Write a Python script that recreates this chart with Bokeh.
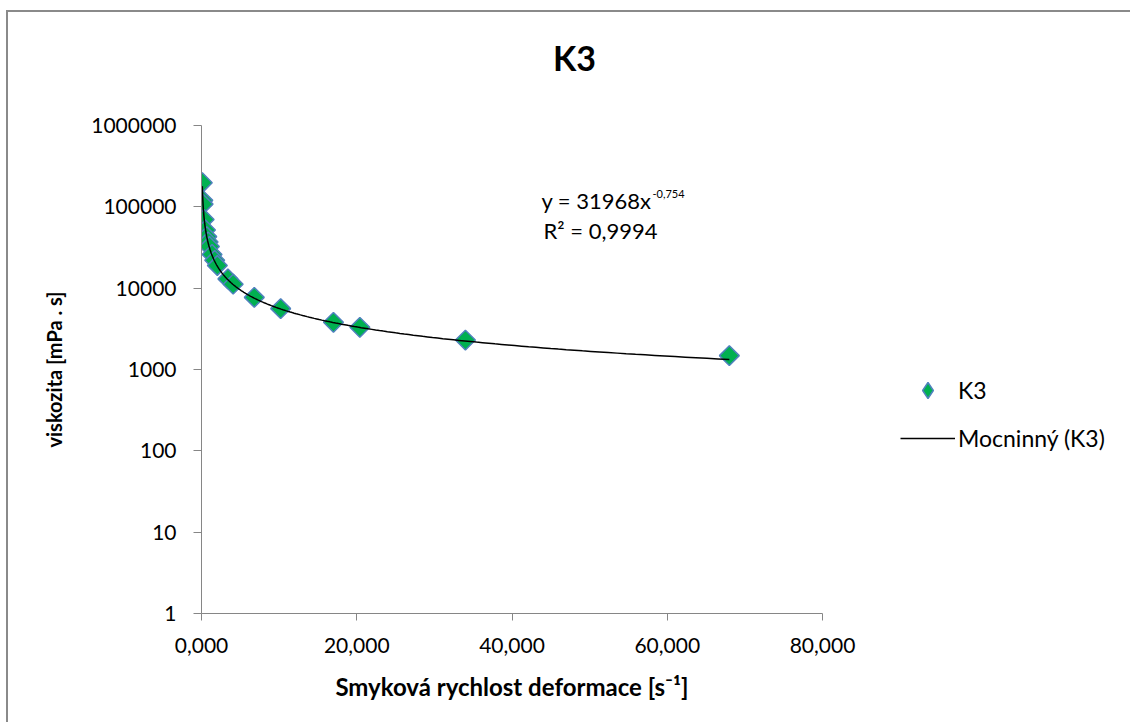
import numpy as np
from bokeh.plotting import figure
from bokeh.models import (FixedTicker, CustomJSTickFormatter, Label, Legend, LegendItem,
                          ColumnDataSource)
from bokeh.embed import file_html
from bokeh.resources import INLINE

# ---- data ----
shear_rate = [0.102, 0.17, 0.204, 0.34, 0.51, 0.68, 0.85, 1.02, 1.36, 1.7, 2.04,
              3.4, 4.08, 6.8, 10.2, 17.0, 20.4, 34.0, 68.0]
viscosity = [198000, 120000, 108000, 70000, 52000, 43000, 37000, 32500, 26000, 22000, 19000,
             13000, 11200, 7700, 5600, 3800, 3300, 2300, 1480]
x_ticks = [0, 20, 40, 60, 80]
y_ticks = [1, 10, 100, 1000, 10000, 100000, 1000000]
fit_coef = 31968
fit_exp = -0.754
fit_r2 = "0,9994"
chart_title = "K3"

FONT = "Lato"
GRAY = "#868686"
GREEN = "#00B050"
BLUE = "#4F81BD"

p = figure(width=1114, height=710, output_backend="svg", toolbar_location=None,
           x_range=(0, 80), y_range=(1, 1e6), y_axis_type="log", title=None,
           frame_width=621, frame_height=488,
           min_border_left=193, min_border_top=113, min_border_right=300, min_border_bottom=109,
           background_fill_color="white", border_fill_color="white")
p.styles = {"margin-left": "6px", "margin-top": "10px",
            "border-left": "2px solid #8a8a8a", "border-top": "2px solid #8a8a8a"}
p.outline_line_color = None
p.grid.visible = False

# title, placed in the area above the plot frame
p.add_layout(Label(x=373, y=68, x_units="screen", y_units="screen", text=chart_title,
                   text_font=FONT, text_font_style="bold", text_font_size="34px",
                   text_align="center", text_baseline="middle", text_color="black"),
             "above")

# axes
for ax in (p.xaxis[0], p.yaxis[0]):
    ax.axis_line_color = GRAY
    ax.major_tick_line_color = GRAY
    ax.minor_tick_line_color = None
    ax.major_tick_in = 0
    ax.major_label_text_font = FONT
    ax.major_label_text_font_size = "21px"
    ax.major_label_text_color = "black"
    ax.axis_label_text_font = FONT
    ax.axis_label_text_font_style = "bold"
    ax.axis_label_text_color = "black"

p.xaxis.ticker = FixedTicker(ticks=x_ticks)
p.xaxis.formatter = CustomJSTickFormatter(code="return tick.toFixed(3).replace('.', ',');")
p.xaxis.major_tick_out = 7
p.xaxis.major_label_standoff = 17
p.xaxis.axis_label = "Smyková rychlost deformace [s\u207b\u00b9]"
p.xaxis.axis_label_text_font_size = "24px"
p.xaxis.axis_label_standoff = 16

p.yaxis.ticker = FixedTicker(ticks=y_ticks)
p.yaxis.formatter = CustomJSTickFormatter(code="return tick.toFixed(0);")
p.yaxis.major_tick_out = 8
p.yaxis.major_label_standoff = 17
p.yaxis.axis_label = "viskozita [mPa . s]"
p.yaxis.axis_label_text_font_size = "20px"
p.yaxis.axis_label_standoff = 22

# trend line (power trendline shown on the chart)
xs = np.geomspace(min(shear_rate), max(shear_rate), 300)
trend = ColumnDataSource(dict(x=xs, y=fit_coef * xs ** fit_exp))

pts = ColumnDataSource(dict(x=shear_rate, y=viscosity))
pts_r = p.scatter("x", "y", source=pts, marker="square", angle=np.pi / 4, size=14,
                  fill_color=GREEN, line_color=BLUE, line_width=1.5)
line_r = p.line("x", "y", source=trend, line_color="black", line_width=1.5)
# legend-only swatch (diamond shape like the series markers), hidden in the plot
swatch_r = p.scatter("x", "y", source=pts, marker="diamond", size=14,
                     fill_color=GREEN, line_color=BLUE, line_width=1.5, visible=False)

# equation
p.add_layout(Label(x=450, y=413, x_units="screen", y_units="screen",
                   text="y = %dx" % fit_coef, text_font=FONT, text_font_size="22px",
                   text_align="right", text_baseline="alphabetic", text_color="black"))
p.add_layout(Label(x=451, y=420, x_units="screen", y_units="screen",
                   text=("%.3f" % fit_exp).replace(".", ","), text_font=FONT,
                   text_font_size="11px", text_align="left", text_baseline="alphabetic",
                   text_color="black"))
p.add_layout(Label(x=399, y=383, x_units="screen", y_units="screen",
                   text="R\u00b2 = " + fit_r2, text_font=FONT, text_font_size="22px",
                   text_align="center", text_baseline="alphabetic", text_color="black"))

legend = Legend(items=[LegendItem(label="K3", renderers=[swatch_r]),
                       LegendItem(label="Mocninný (K3)", renderers=[line_r])],
                location=(78, 155), orientation="vertical",
                glyph_width=55, glyph_height=40, label_height=24, spacing=8,
                label_standoff=3, padding=0, margin=0,
                border_line_color=None, background_fill_alpha=0,
                inactive_fill_alpha=0,
                label_text_font=FONT, label_text_font_size="23px", label_text_color="black")
p.add_layout(legend, "right")

open("out.html", "w").write(file_html(p, INLINE))
